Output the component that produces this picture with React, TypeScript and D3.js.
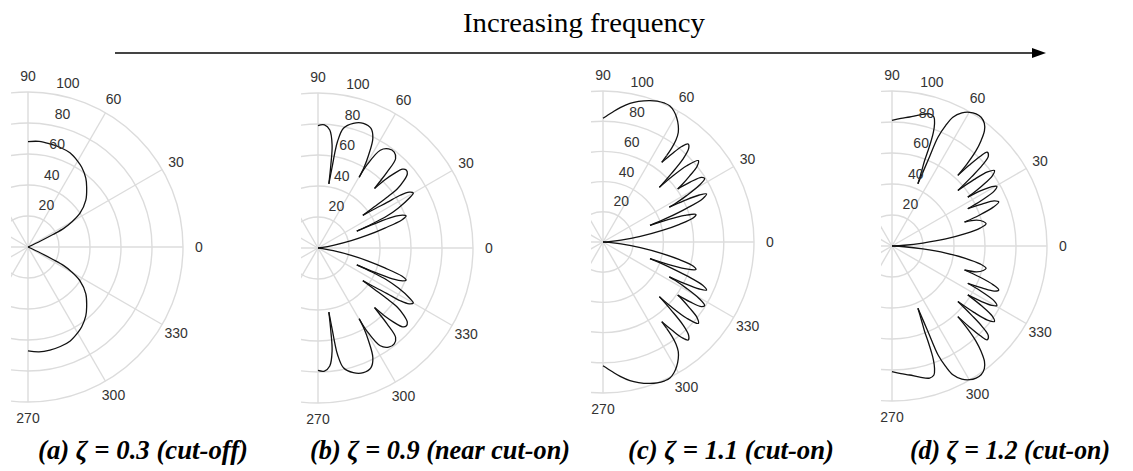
import React from 'react';
import * as d3 from 'd3';

// ---------- data ----------
const ringValues = [20, 40, 60, 80, 100];
const spokeAngles = [0, 30, 60, 90, 120, 150, 180, 210, 240, 270, 300, 330];
const angleLabels = [0, 30, 60, 90, 270, 300, 330];
const titleText = 'Increasing frequency';
const captions = [
  '(a) ζ = 0.3 (cut-off)',
  '(b) ζ = 0.9 (near cut-on)',
  '(c) ζ = 1.1 (cut-on)',
  '(d) ζ = 1.2 (cut-on)',
];

// [angle (deg), level] pairs, 90 -> -90
const patternA: [number, number][] = [
  [90, 68], [84, 68.5], [78, 68], [72, 67.5], [66, 66.5], [60, 64], [56, 62], [50, 58], [45.5, 54],
  [39, 48], [33, 40], [29.5, 32], [27.5, 26], [26.5, 18], [25.5, 9], [24, 0],
  [-24, 0], [-25.5, 9], [-26.5, 18], [-27.5, 26], [-29.5, 32], [-33, 40], [-39, 48], [-45.5, 54],
  [-50, 58], [-56, 62], [-60, 64], [-66, 66.5], [-72, 67.5], [-78, 68], [-84, 68], [-90, 67],
];
const nullsA = [24, -24];

const patternB: [number, number][] = [
  [90, 79], [87, 79.5], [84.3, 76.5], [82.2, 67], [81.2, 54], [80.4, 42],
  [80.1, 54], [80, 62], [79.6, 70], [78, 79], [74.2, 83.6], [70, 85.6], [66.1, 84.4], [63.4, 79], [61.4, 68], [60.3, 60], [59.8, 52.8],
  [59.5, 62], [57.5, 74.8], [54.5, 78.5], [51.5, 79], [49, 76.3], [47.7, 66.2], [47, 58], [46.5, 53],
  [45.5, 62], [44.5, 68], [43, 74.6], [41.5, 76], [39.7, 74.9], [38, 70], [36.7, 63.7], [36.3, 55], [36.2, 45], [36.1, 35.8],
  [34.5, 45], [33.4, 53.4], [32.7, 63], [31.5, 69], [30, 71], [28.6, 67], [26.5, 58], [24.9, 49], [24, 38], [23.5, 27.3],
  [23.2, 40], [22.5, 52], [21.2, 58.5], [20, 60.5], [18.5, 57], [16.6, 45], [14.5, 33], [12.5, 22], [10, 10], [7, 3], [5, 0],
  [-5, 0], [-7, 3], [-10, 10], [-12.5, 22], [-14.5, 33], [-16.6, 45], [-18.5, 57], [-20, 60.5], [-21.2, 58.5], [-22.5, 52], [-23.2, 40], [-23.5, 27.3],
  [-24, 38], [-24.9, 49], [-26.5, 58], [-28.6, 67], [-30, 71], [-31.5, 69], [-32.7, 63], [-33.4, 53.4], [-34.5, 45], [-36.1, 35.8],
  [-36.2, 45], [-36.3, 55], [-36.7, 63.7], [-38, 70], [-39.7, 74.9], [-41.5, 76], [-43, 74.6], [-44.5, 68], [-45.5, 62], [-46.5, 53],
  [-47, 58], [-47.7, 66.2], [-49, 76.3], [-51.5, 79], [-54.5, 78.5], [-57.5, 74.8], [-59.5, 62], [-59.8, 52.8],
  [-60.3, 60], [-61.4, 68], [-63.4, 79], [-66.1, 84.4], [-70, 85.6], [-74.2, 83.6], [-78, 79], [-79.6, 70], [-80, 62], [-80.1, 54], [-80.4, 42],
  [-81.2, 54], [-82.2, 67], [-84.3, 76.5], [-87, 79.5], [-90, 79],
];
const nullsB = [80.4, 59.8, 46.5, 36.1, 23.5, 5, -5, -23.5, -36.1, -46.5, -59.8, -80.4];

const patternC: [number, number][] = [
  [90, 82], [86, 86], [82.7, 89.7], [79, 93.5], [75.8, 96], [72, 98.5], [69, 100], [66, 100.6], [63.8, 100.4], [61.5, 98.5],
  [59.4, 95.8], [57.2, 92], [55.5, 88], [54.4, 83], [53.8, 77], [53.6, 71], [53.6, 65.6],
  [52, 74], [50.5, 82], [49, 86], [47.5, 84], [46, 76], [45, 64], [44.1, 52],
  [43.5, 62], [42.3, 75], [40.5, 83], [38.8, 80], [37.3, 72], [36, 65], [35.4, 60.7],
  [34.5, 70], [33.3, 78], [32, 79.4], [30.5, 74], [29, 63], [28, 54], [27.7, 49.6],
  [27, 60], [26, 71], [24.9, 75.6], [23.5, 72], [22, 60], [20.5, 45], [19.4, 33],
  [19, 45], [18, 57], [16.5, 64.2], [15, 62], [13, 52], [11, 40], [8.5, 25], [6, 12], [4, 4], [3, 0],
  [-3, 0], [-4, 4], [-6, 12], [-8.5, 25], [-11, 40], [-13, 52], [-15, 62], [-16.5, 64.2], [-18, 57], [-19, 45], [-19.4, 33],
  [-20.5, 45], [-22, 60], [-23.5, 72], [-24.9, 75.6], [-26, 71], [-27, 60], [-27.7, 49.6],
  [-28, 54], [-29, 63], [-30.5, 74], [-32, 79.4], [-33.3, 78], [-34.5, 70], [-35.4, 60.7],
  [-36, 65], [-37.3, 72], [-38.8, 80], [-40.5, 83], [-42.3, 75], [-43.5, 62], [-44.1, 52],
  [-45, 64], [-46, 76], [-47.5, 84], [-49, 86], [-50.5, 82], [-52, 74], [-53.6, 65.6],
  [-53.6, 71], [-53.8, 77], [-54.4, 83], [-55.5, 88], [-57.2, 92], [-59.4, 95.8], [-61.5, 98.5], [-63.8, 100.4],
  [-66, 100.6], [-69, 100], [-72, 98.5], [-75.8, 96], [-79, 93.5], [-82.7, 89.7], [-86, 86], [-90, 82],
];
const nullsC = [53.6, 44.1, 35.4, 27.7, 19.4, 3, -3, -19.4, -27.7, -35.4, -44.1, -53.6];

const patternD: [number, number][] = [
  [90, 81], [86, 82.5], [82.2, 84], [78, 86.5], [74.1, 88.6], [72, 87.5], [70.8, 83.4], [70, 78], [69.6, 72.6],
  [69.3, 66], [69.1, 59], [68.3, 51], [67.4, 43.5],
  [67.2, 60], [67.1, 76.2], [66, 85], [64.7, 91.9], [62.3, 97], [59.9, 99.7], [57.5, 101], [55.3, 101], [53, 99],
  [51.3, 95.4], [49.8, 89], [48.6, 82], [47.6, 72], [47, 62.3],
  [46.3, 72], [45.5, 81], [44.6, 86.2], [43, 85], [41.8, 78], [41, 68], [40.1, 55.6],
  [39, 68], [37.8, 78], [36.4, 82.1], [35, 79], [33.8, 70], [32.8, 58.2],
  [31.8, 68], [30.7, 75], [29.6, 77.8], [28.3, 75], [27, 65], [26.2, 54.5],
  [25, 64], [23.8, 72], [22.4, 74.5], [21, 70], [19.5, 60], [18.3, 49.3],
  [17, 57], [15, 61], [13.3, 62.4], [11.5, 58], [9.5, 48], [7.5, 35], [5.5, 20], [3.5, 8], [2, 0],
  [-2, 0], [-3.5, 8], [-5.5, 20], [-7.5, 35], [-9.5, 48], [-11.5, 58], [-13.3, 62.4], [-15, 61], [-17, 57], [-18.3, 49.3],
  [-19.5, 60], [-21, 70], [-22.4, 74.5], [-23.8, 72], [-25, 64], [-26.2, 54.5],
  [-27, 65], [-28.3, 75], [-29.6, 77.8], [-30.7, 75], [-31.8, 68], [-32.8, 58.2],
  [-33.8, 70], [-35, 79], [-36.4, 82.1], [-37.8, 78], [-39, 68], [-40.1, 55.6],
  [-41, 68], [-41.8, 78], [-43, 85], [-44.6, 86.2], [-45.5, 81], [-46.3, 72], [-47, 62.3],
  [-47.6, 72], [-48.6, 82], [-49.8, 89], [-51.3, 95.4], [-53, 99], [-55.3, 101], [-57.5, 101], [-59.9, 99.7],
  [-62.3, 97], [-64.7, 91.9], [-66, 85], [-67.1, 76.2], [-67.2, 60], [-67.4, 43.5],
  [-68.3, 51], [-69.1, 59], [-69.3, 66], [-69.6, 72.6], [-70, 78], [-70.8, 83.4], [-72, 87.5], [-74.1, 88.6],
  [-78, 86.5], [-82.2, 84], [-86, 82.5], [-90, 81],
];
const nullsD = [67.4, 47, 40.1, 32.8, 26.2, 18.3, 2, -2, -18.3, -26.2, -32.8, -40.1, -47, -67.4];

// ---------- layout ----------
const W = 1133;
const H = 471;
const panels = [
  { cx: 28, cy: 247, R: 155, left: 17, data: patternA, nulls: nullsA, capX: 38, capW: 210 },
  { cx: 318, cy: 248, R: 155, left: 17, data: patternB, nulls: nullsB, capX: 310, capW: 260 },
  { cx: 603, cy: 242, R: 151, left: 12, data: patternC, nulls: nullsC, capX: 628, capW: 206 },
  { cx: 892, cy: 246, R: 155, left: 11, data: patternD, nulls: nullsD, capX: 910, capW: 200 },
];

const rad = (deg: number) => (deg * Math.PI) / 180;

function splitAtNulls(data: [number, number][], nulls: number[]) {
  const set = new Set(nulls);
  const segs: [number, number][][] = [];
  let cur: [number, number][] = [];
  data.forEach((p) => {
    cur.push(p);
    if (set.has(p[0]) && cur.length > 1) {
      segs.push(cur);
      cur = [p];
    }
  });
  if (cur.length > 1) segs.push(cur);
  return segs;
}

function Panel({ p, i }: { p: (typeof panels)[number]; i: number }) {
  const r = d3.scaleLinear().domain([0, 100]).range([0, p.R]);
  const line = d3
    .lineRadial<[number, number]>()
    .angle((d) => rad(90 - d[0]))
    .radius((d) => r(d[1]))
    .curve(d3.curveCatmullRom.alpha(0.5));
  const segs = splitAtNulls(p.data, p.nulls);
  const grid = '#dcdcdc';
  return (
    <g transform={`translate(${p.cx},${p.cy})`}>
      <clipPath id={`clip${i}`}>
        <rect x={-p.left} y={-p.R - 40} width={p.R + 80} height={2 * p.R + 80} />
      </clipPath>
      <g clipPath={`url(#clip${i})`}>
        {ringValues.map((v) => (
          <circle key={v} r={r(v)} fill="none" stroke={grid} strokeWidth={1.4} />
        ))}
        {spokeAngles.map((a) => (
          <line
            key={a}
            x1={0}
            y1={0}
            x2={r(100) * Math.cos(rad(a))}
            y2={-r(100) * Math.sin(rad(a))}
            stroke={grid}
            strokeWidth={1.4}
          />
        ))}
      </g>
      {segs.map((s, k) => (
        <path key={k} d={line(s) || ''} fill="none" stroke="#111" strokeWidth={1.3} />
      ))}
      {ringValues.map((v) => (
        <text
          key={v}
          x={r(v) * Math.cos(rad(80)) + 13}
          y={-r(v) * Math.sin(rad(80)) - 11}
          textAnchor="middle"
          dominantBaseline="central"
          fontFamily="Liberation Sans, Arial, sans-serif"
          fontSize={14}
          fill="#333"
        >
          {v}
        </text>
      ))}
      {angleLabels.map((a) => (
        <text
          key={a}
          x={(r(100) + 16) * Math.cos(rad(a))}
          y={-(r(100) + 16) * Math.sin(rad(a))}
          textAnchor="middle"
          dominantBaseline="central"
          fontFamily="Liberation Sans, Arial, sans-serif"
          fontSize={14}
          fill="#333"
        >
          {a}
        </text>
      ))}
    </g>
  );
}

export default function App() {
  return (
    <svg width={W} height={H} style={{ position: 'absolute', left: 0, top: 0, background: '#fff' }}>
      <rect width={W} height={H} fill="#fff" />
      <text
        x={463}
        y={32}
        fontFamily="Liberation Serif, Times New Roman, serif"
        fontSize={27}
        textLength={242}
        lengthAdjust="spacingAndGlyphs"
        fill="#000"
      >
        {titleText}
      </text>
      <line x1={115} y1={53} x2={1033} y2={53} stroke="#444" strokeWidth={2} />
      <path d="M1032,48 L1046,53 L1032,58 Z" fill="#000" />
      {panels.map((p, i) => (
        <Panel key={i} p={p} i={i} />
      ))}
      {panels.map((p, i) => (
        <text
          key={i}
          x={p.capX}
          y={459}
          fontFamily="Liberation Serif, Times New Roman, serif"
          fontWeight="bold"
          fontStyle="italic"
          fontSize={27}
          textLength={p.capW}
          lengthAdjust="spacingAndGlyphs"
          fill="#000"
        >
          {captions[i]}
        </text>
      ))}
    </svg>
  );
}
